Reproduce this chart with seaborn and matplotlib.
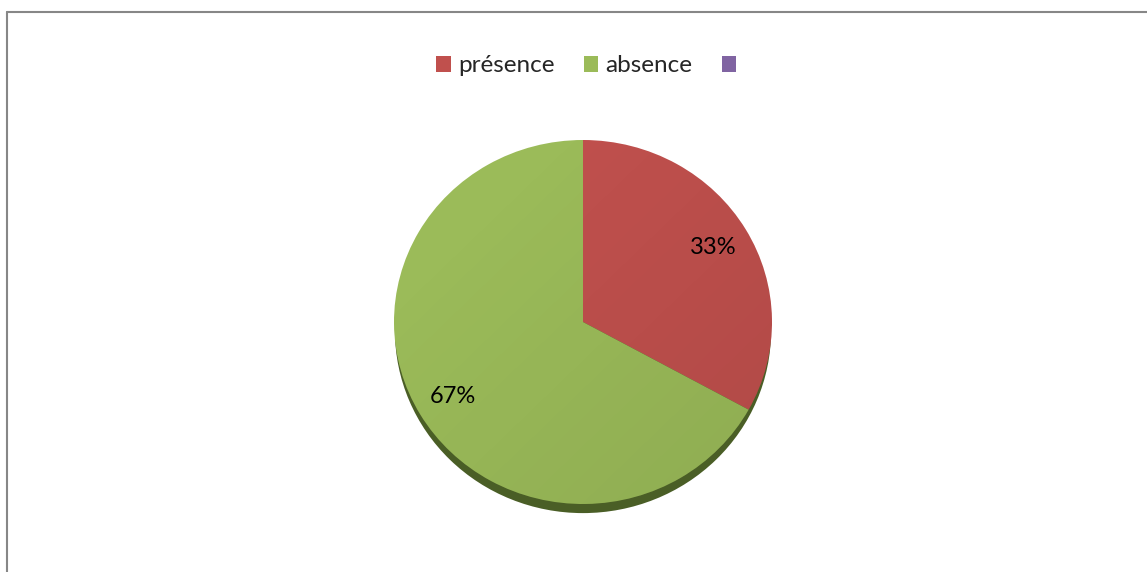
import matplotlib
matplotlib.use("Agg")
import matplotlib.pyplot as plt
import seaborn as sns
import numpy as np
from matplotlib.patches import Ellipse, Patch
from matplotlib.lines import Line2D

categories = ["présence", "absence", ""]
values = [33, 67, 0]
colors = ["#C0504D", "#9BBB59", "#8064A2"]

sns.set_theme(style="white")
plt.rcParams['font.family'] = ['Lato', 'DejaVu Sans']

W, H = 1147, 572
fig = plt.figure(figsize=(W / 100, H / 100), dpi=100)
fig.patch.set_facecolor("white")

# pie axes (slightly elliptical like the reference)
cx, cy, rx, ry = 583, 322, 189, 182
ax = fig.add_axes([(cx - rx) / W, (H - cy - ry) / H, 2 * rx / W, 2 * ry / H])
ax.axis("off")

# shadow / thickness below the pie
shadow = Ellipse((0, -0.05), 1.99, 2.0, facecolor="#4A5E26", edgecolor="none",
                 zorder=0, clip_on=False)
ax.add_patch(shadow)

pie_vals = [v for v in values if v > 0]
pie_cols = [c for v, c in zip(values, colors) if v > 0]
wedges, texts, autotexts = ax.pie(
    pie_vals, colors=pie_cols, startangle=90, counterclock=False,
    autopct=lambda p: f"{p:.0f}%", pctdistance=0.8, radius=1.0,
    wedgeprops=dict(edgecolor="none", linewidth=0), frame=False,
    textprops=dict(fontsize=17, color="black"))
for w in wedges:
    w.set_zorder(1)
    w.set_clip_on(False)
for t in autotexts:
    t.set_zorder(3)

# subtle lighting gradient over the pie
yy, xx = np.mgrid[1:-1:300j, -1:1:300j]
rgba = np.zeros((300, 300, 4))
rgba[..., 3] = np.clip(0.05 * (xx - yy) / 2 + 0.03, 0, 0.1)
im = ax.imshow(rgba, extent=(-1, 1, -1, 1), origin="upper", zorder=2,
               aspect="auto", interpolation="bilinear")
clipc = Ellipse((0, 0), 2.0, 2.0, transform=ax.transData)
im.set_clip_path(clipc)
ax.set_xlim(-1, 1)
ax.set_ylim(-1, 1)
ax.set_aspect("auto")

# legend
handles = [Patch(facecolor=c, edgecolor="none") for c in colors]
fig.legend(handles, categories, loc="center", bbox_to_anchor=(590 / W, 1 - 66 / H),
           ncol=3, frameon=False, fontsize=17.5, handlelength=0.6, handleheight=0.6,
           handletextpad=0.3, columnspacing=1.2)

# border frame (left and top edges visible)
fig.add_artist(Line2D([7.5 / W, 7.5 / W], [0, 1 - 12 / H], transform=fig.transFigure,
                      color="#878787", lw=1.5))
fig.add_artist(Line2D([7.5 / W, 1], [1 - 12 / H, 1 - 12 / H], transform=fig.transFigure,
                      color="#878787", lw=1.5))

fig.savefig("out.png", dpi=100, facecolor="white")
